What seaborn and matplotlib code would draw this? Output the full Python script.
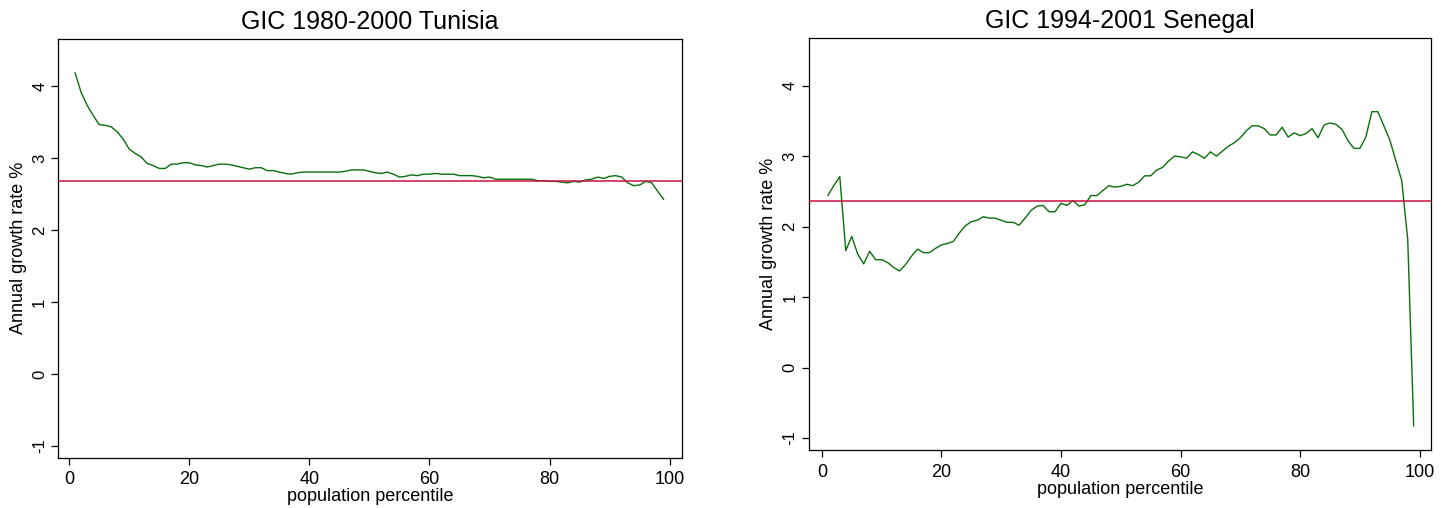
import numpy as np
import pandas as pd
import matplotlib
matplotlib.use("Agg")
import matplotlib.pyplot as plt
import seaborn as sns

# ---------------- data ----------------
percentile = list(range(1, 100))

tunisia_growth = [
    4.19, 3.92, 3.74, 3.60, 3.47, 3.46, 3.44, 3.37, 3.27, 3.13,
    3.07, 3.02, 2.93, 2.90, 2.86, 2.86, 2.92, 2.92, 2.94, 2.94,
    2.91, 2.90, 2.88, 2.90, 2.92, 2.92, 2.91, 2.89, 2.87, 2.85,
    2.87, 2.87, 2.83, 2.83, 2.81, 2.79, 2.78, 2.80, 2.81, 2.81,
    2.81, 2.81, 2.81, 2.81, 2.81, 2.82, 2.84, 2.84, 2.84, 2.82,
    2.80, 2.79, 2.81, 2.78, 2.74, 2.75, 2.77, 2.76, 2.78, 2.78,
    2.79, 2.78, 2.78, 2.78, 2.76, 2.76, 2.76, 2.75, 2.73, 2.74,
    2.71, 2.71, 2.71, 2.71, 2.71, 2.71, 2.71, 2.69, 2.69, 2.68,
    2.68, 2.67, 2.66, 2.68, 2.67, 2.70, 2.71, 2.74, 2.72, 2.75,
    2.76, 2.74, 2.66, 2.62, 2.63, 2.68, 2.66, 2.54, 2.43,
]
tunisia_mean = 2.684

senegal_growth = [
    2.44, 2.58, 2.71, 1.66, 1.86, 1.61, 1.47, 1.65, 1.53, 1.53,
    1.49, 1.42, 1.37, 1.46, 1.58, 1.68, 1.63, 1.63, 1.69, 1.74,
    1.76, 1.79, 1.91, 2.01, 2.07, 2.09, 2.14, 2.12, 2.12, 2.09,
    2.06, 2.06, 2.02, 2.12, 2.23, 2.29, 2.30, 2.21, 2.21, 2.33,
    2.30, 2.37, 2.29, 2.31, 2.44, 2.44, 2.51, 2.58, 2.56, 2.57,
    2.60, 2.58, 2.63, 2.72, 2.72, 2.80, 2.84, 2.93, 3.00, 2.99,
    2.97, 3.06, 3.02, 2.97, 3.06, 3.00, 3.07, 3.14, 3.19, 3.26,
    3.36, 3.43, 3.43, 3.39, 3.30, 3.30, 3.41, 3.27, 3.33, 3.29,
    3.32, 3.39, 3.26, 3.44, 3.47, 3.45, 3.38, 3.22, 3.11, 3.11,
    3.27, 3.63, 3.63, 3.43, 3.23, 2.94, 2.65, 1.82, -0.83,
]
senegal_mean = 2.367

titles = ["GIC 1980-2000 Tunisia", "GIC 1994-2001 Senegal"]
x_ticks = [0, 20, 40, 60, 80, 100]
y_ticks = [-1, 0, 1, 2, 3, 4]

# ---------------- style ----------------
sns.set_style("ticks")
plt.rcParams["font.family"] = ["Liberation Sans", "DejaVu Sans"]
plt.rcParams["text.color"] = "black"
plt.rcParams["axes.labelcolor"] = "black"

LINE_GREEN = "#0a6e0a"
MEAN_RED = "#cc1040"

fig = plt.figure(figsize=(14.49, 5.08), dpi=100)
ax1 = fig.add_axes([0.0402, 0.0994, 0.4303, 0.8238])
ax2 = fig.add_axes([0.5581, 0.1142, 0.4295, 0.8116])

panels = [
    (ax1, tunisia_growth, tunisia_mean, titles[0], (-1.16, 4.66), (-1.8, 102.0)),
    (ax2, senegal_growth, senegal_mean, titles[1], (-1.17, 4.68), (-2.2, 101.9)),
]

for ax, vals, mean, title, ylim, xlim in panels:
    df = pd.DataFrame({"percentile": percentile, "growth": vals})
    sns.lineplot(data=df, x="percentile", y="growth", ax=ax,
                 color=LINE_GREEN, linewidth=1.0)
    ax.axhline(mean, color=MEAN_RED, linewidth=1.1, zorder=3)
    ax.set_xlim(*xlim)
    ax.set_ylim(*ylim)
    ax.set_xticks(x_ticks)
    ax.set_yticks(y_ticks)
    ax.set_xticklabels([str(t) for t in x_ticks], fontsize=13)
    ax.set_yticklabels([str(t) for t in y_ticks], fontsize=12,
                       rotation=90, va="center")
    ax.set_title(title, fontsize=18, pad=7, color="black")
    ax.set_xlabel("population percentile", fontsize=13, labelpad=0)
    ax.set_ylabel("Annual growth rate %", fontsize=13, labelpad=4)
    for s in ax.spines.values():
        s.set_visible(True)
        s.set_color("black")
        s.set_linewidth(0.9)
    ax.tick_params(axis="both", direction="out", length=5, width=0.9,
                   color="black", labelcolor="black")
    ax.tick_params(axis="x", pad=5)
    ax.tick_params(axis="y", pad=3)
    ax.grid(False)

fig.savefig("out.png", dpi=100, facecolor="white")
